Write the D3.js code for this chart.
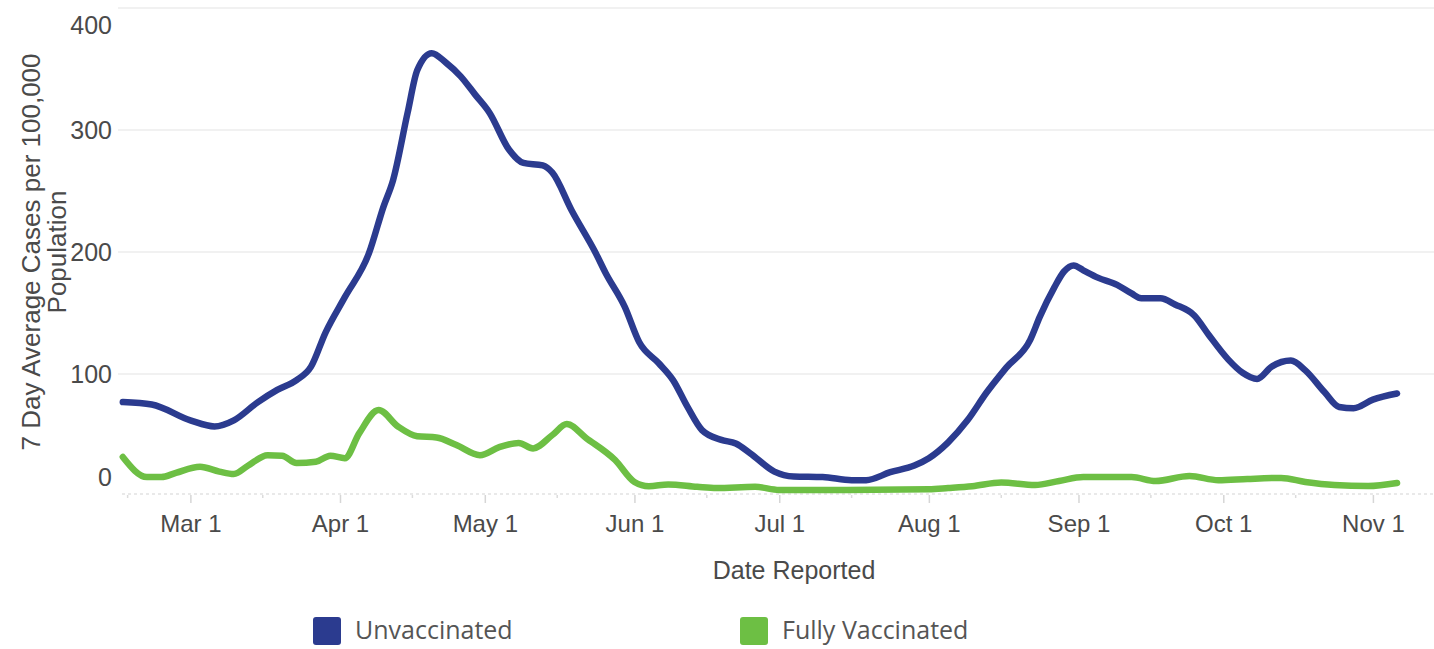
<!DOCTYPE html>
<html>
<head>
<meta charset="utf-8">
<script src="https://cdn.jsdelivr.net/npm/d3@7"></script>
<style>
  html, body { margin: 0; padding: 0; background: #ffffff; }
  svg { display: block; }
</style>
</head>
<body>
<svg id="chart" width="1434" height="649"></svg>
<script>
// ---- Data ----
const unvaxDates = ["2021-02-15","2021-02-21","2021-03-01","2021-03-06","2021-03-10","2021-03-15","2021-03-19","2021-03-23","2021-03-26","2021-03-29",
  "2021-04-02","2021-04-07","2021-04-10","2021-04-12","2021-04-15","2021-04-17","2021-04-20","2021-04-23","2021-04-26","2021-04-29",
  "2021-05-02","2021-05-06","2021-05-09","2021-05-13","2021-05-15","2021-05-19","2021-05-24","2021-05-26","2021-05-30",
  "2021-06-02","2021-06-06","2021-06-09","2021-06-12","2021-06-15","2021-06-19","2021-06-22","2021-06-25","2021-06-30",
  "2021-07-04","2021-07-10","2021-07-16","2021-07-19","2021-07-24","2021-07-29",
  "2021-08-01","2021-08-05","2021-08-09","2021-08-13","2021-08-17","2021-08-22","2021-08-24","2021-08-27","2021-08-29","2021-08-31",
  "2021-09-02","2021-09-05","2021-09-09","2021-09-12","2021-09-14","2021-09-18","2021-09-21","2021-09-25","2021-09-28",
  "2021-10-02","2021-10-05","2021-10-08","2021-10-11","2021-10-15","2021-10-18","2021-10-22","2021-10-25","2021-10-28",
  "2021-11-01","2021-11-06"];
const unvaxValues = [77,75,62,57,62,77,87,95,106,134,
  163,199,237,259,314,349,363,355,344,329,
  314,284,273,271,265,234,199,183,155,
  126,109,95,73,54,46,43,35,20,
  16,15.5,13,13,19.5,25,
  31,44,62,85,105,128,147,171,184,189,
  185,179,173,166,162,162,157,148,132,
  112,101,96,106,111,103,85,73,72,
  79,84];

const vaxDates = ["2021-02-15","2021-02-20","2021-02-23","2021-02-26","2021-03-03","2021-03-07","2021-03-10","2021-03-13","2021-03-17","2021-03-20",
  "2021-03-23","2021-03-27","2021-03-30","2021-04-02","2021-04-05","2021-04-09","2021-04-13","2021-04-17","2021-04-21","2021-04-25",
  "2021-04-30","2021-05-04","2021-05-08","2021-05-11","2021-05-15","2021-05-18","2021-05-22","2021-05-28",
  "2021-06-01","2021-06-04","2021-06-08","2021-06-14","2021-06-18","2021-06-26",
  "2021-07-01","2021-07-15","2021-08-01","2021-08-05","2021-08-10","2021-08-16","2021-08-23","2021-08-28",
  "2021-09-02","2021-09-08","2021-09-12","2021-09-17","2021-09-24","2021-09-30",
  "2021-10-06","2021-10-13","2021-10-18","2021-10-24","2021-10-31","2021-11-06"];
const vaxValues = [32,15.5,15.5,19,24,20,18,25,33.5,33,
  27,28,33,31,51.5,70.5,57,49,48,42,
  33.5,40,43.5,39,50,59,47.5,29.5,
  11.5,8,9.5,7.5,6.5,7.5,
  5,5,5.5,6.5,8,11,9,12.3,
  15.5,15.5,15.5,12.3,16.4,13,
  14,14.8,11.5,9,8.2,10.7];

const yTicks = [0, 100, 200, 300, 400];
const monthTicks = ["2021-03-01","2021-04-01","2021-05-01","2021-06-01","2021-07-01","2021-08-01","2021-09-01","2021-10-01","2021-11-01"];
const minorTicks = ["2021-02-16","2021-03-16","2021-04-16","2021-05-16","2021-06-16","2021-07-16","2021-08-16","2021-09-16","2021-10-16"];
const seriesNames = ["Unvaccinated", "Fully Vaccinated"];
const seriesColors = ["#2b3b8f", "#6dbf44"];
const xTitle = "Date Reported";
const yTitle = ["7 Day Average Cases per 100,000", "Population"];

// ---- Chart ----
const parse = d3.utcParse("%Y-%m-%d");
const svg = d3.select("#chart");
const plotLeft = 118, plotRight = 1426, plotTop = 8, plotBottom = 496;

const x = d3.scaleUtc()
  .domain([parse("2021-02-15"), parse("2021-11-12")])
  .range([plotLeft + 4.8, plotRight]);
const y = d3.scaleLinear().domain([0, 400]).range([plotBottom, plotTop]);

const font = "'Liberation Sans', Arial, sans-serif";
const textColor = "#4a4a4a";

// gridlines
svg.append("g")
  .selectAll("line")
  .data(yTicks.filter(d => d > 0))
  .join("line")
  .attr("x1", plotLeft).attr("x2", 1434)
  .attr("y1", d => y(d)).attr("y2", d => y(d))
  .attr("stroke", "#ececec").attr("stroke-width", 1.5);

// dashed baseline
svg.append("line")
  .attr("x1", plotLeft + 4).attr("x2", 1434)
  .attr("y1", y(0) - 2).attr("y2", y(0) - 2)
  .attr("stroke", "#e2e2e2").attr("stroke-width", 1.3)
  .attr("stroke-dasharray", "3,3");

// y axis labels
const yAxis = d3.axisLeft(y).tickValues(yTicks).tickSize(0).tickPadding(0).tickFormat(d3.format("d"));
const gy = svg.append("g").attr("transform", `translate(112,0)`).call(yAxis);
gy.select(".domain").remove();
gy.selectAll("text")
  .attr("font-family", font).attr("font-size", 25).attr("fill", textColor)
  .attr("dy", d => d === 400 ? "1.02em" : d === 0 ? "-0.42em" : "0.35em");

// x axis
const xAxis = d3.axisBottom(x)
  .tickValues(monthTicks.map(parse))
  .tickSize(8).tickPadding(12)
  .tickFormat(d3.utcFormat("%b %-d"));
const gx = svg.append("g").attr("transform", `translate(0,${plotBottom - 1})`).call(xAxis);
gx.select(".domain").remove();
gx.selectAll("line").attr("stroke", "#d6d6d6").attr("stroke-width", 1.5);
gx.selectAll("text").attr("font-family", font).attr("font-size", 24).attr("fill", textColor);

// minor ticks
svg.append("g").selectAll("line")
  .data(minorTicks.map(parse))
  .join("line")
  .attr("x1", d => x(d)).attr("x2", d => x(d))
  .attr("y1", plotBottom - 1).attr("y2", plotBottom + 2)
  .attr("stroke", "#dcdcdc").attr("stroke-width", 1.5);

// axis titles
svg.append("text")
  .attr("x", (plotLeft + plotRight) / 2 + 22).attr("y", 579)
  .attr("text-anchor", "middle")
  .attr("font-family", font).attr("font-size", 25).attr("fill", textColor)
  .text(xTitle);

const yt = svg.append("text")
  .attr("transform", `translate(40,${(plotTop + plotBottom) / 2}) rotate(-90)`)
  .attr("text-anchor", "middle")
  .attr("font-family", font).attr("font-size", 26).attr("fill", textColor);
yt.selectAll("tspan").data(yTitle).join("tspan")
  .attr("x", 0).attr("dy", (d, i) => i === 0 ? 0 : "1.0em")
  .text(d => d);

// lines
const line = d3.line()
  .x(d => x(d.date)).y(d => y(d.value))
  .curve(d3.curveMonotoneX);

const series = [
  { name: seriesNames[0], color: seriesColors[0], data: unvaxDates.map((d, i) => ({ date: parse(d), value: unvaxValues[i] })) },
  { name: seriesNames[1], color: seriesColors[1], data: vaxDates.map((d, i) => ({ date: parse(d), value: vaxValues[i] })) }
];

svg.append("g").selectAll("path")
  .data(series.slice().reverse())
  .join("path")
  .attr("d", d => line(d.data))
  .attr("fill", "none")
  .attr("stroke", d => d.color)
  .attr("stroke-width", 6.5)
  .attr("stroke-linejoin", "round")
  .attr("stroke-linecap", "round");

// legend
const legendX = [313, 740];
const lg = svg.append("g").selectAll("g").data(series).join("g")
  .attr("transform", (d, i) => `translate(${legendX[i]},617)`);
lg.append("rect").attr("width", 28).attr("height", 28).attr("rx", 3)
  .attr("fill", d => d.color);
lg.append("text").attr("x", 42).attr("y", 22)
  .attr("font-family", "'Open Sans', 'Noto Sans', sans-serif").attr("font-size", 25)
  .attr("fill", "#555555")
  .text(d => d.name);
</script>
</body>
</html>
